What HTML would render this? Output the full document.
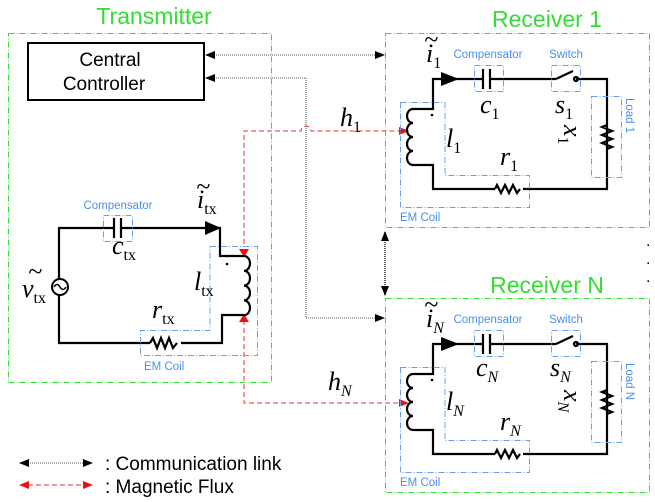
<!DOCTYPE html>
<html><head><meta charset="utf-8"><style>
body{margin:0;background:#fff}
svg{display:block}
.g{fill:none;stroke:#33dd33;stroke-width:1;stroke-dasharray:6 2 1 2}
.b{fill:none;stroke:#6a9ff0;stroke-width:1;stroke-dasharray:6 2 1 2}
.w{fill:none;stroke:#000;stroke-width:2.2}
.c{fill:none;stroke:#777;stroke-width:1.3;stroke-dasharray:1 1}
.r{fill:none;stroke:#f03030;stroke-width:1;stroke-dasharray:5 3}
.t{font-family:"Liberation Sans",sans-serif}
.m{font-family:"Liberation Serif",serif;font-style:italic;font-size:26px}
.s{font-family:"Liberation Serif",serif;font-size:16px;font-style:normal}
.si{font-family:"Liberation Serif",serif;font-size:16px;font-style:italic}
.sl{font-family:"Liberation Sans",sans-serif;font-size:11.5px;fill:#4a8ef0}
.gt{font-family:"Liberation Sans",sans-serif;font-size:23px;fill:#33dd33}
</style></head><body>
<svg width="655" height="502" viewBox="0 0 655 502" xmlns="http://www.w3.org/2000/svg">
<defs>
<marker id="ka" markerWidth="10" markerHeight="8" refX="9" refY="4" orient="auto-start-reverse" markerUnits="userSpaceOnUse"><path d="M0,0 L10,4 L0,8 z" fill="#000"/></marker>
<marker id="ra" markerWidth="10" markerHeight="8" refX="9" refY="4" orient="auto-start-reverse" markerUnits="userSpaceOnUse"><path d="M0,0 L10,4 L0,8 z" fill="#f01010"/></marker>
</defs>
<!-- Transmitter -->
<text class="gt" x="154" y="24" text-anchor="middle">Transmitter</text>
<rect class="g" x="8.5" y="33.5" width="263" height="349"/>
<rect x="28" y="43" width="176" height="57" fill="none" stroke="#000" stroke-width="2"/>
<text class="t" x="110" y="66" font-size="19" text-anchor="middle">Central</text>
<text class="t" x="104" y="90" font-size="19" text-anchor="middle">Controller</text>
<!-- comm links -->
<path class="c" d="M206,55 H384" marker-start="url(#ka)" marker-end="url(#ka)"/>
<path class="c" d="M206,78 H306 V318 H384" marker-start="url(#ka)" marker-end="url(#ka)"/>
<path class="c" d="M385,232 V295" marker-start="url(#ka)" marker-end="url(#ka)" style="stroke:#000"/>
<!-- red flux -->
<path class="r" d="M244,244 V131 H301 a5,5 0 0 1 10,0 H408" marker-end="url(#ra)"/>
<path class="r" d="M244,320 V403 H408" marker-end="url(#ra)"/>
<path d="M239,249 L249,249 L244,257z M239,322 L249,322 L244,314z" fill="#f01010"/>
<!-- tx circuit -->
<path class="w" d="M114,228 H59 V279 M59,295 V343 H150 M181,343 H222 V315 H244 M244,256 H220 V228 H122"/>
<path class="w" d="M114,218 V238 M121,218 V238"/>
<path d="M205,221 L221,228 L205,235z" fill="#000"/>
<circle cx="60" cy="287" r="8" fill="none" stroke="#000" stroke-width="2"/>
<path d="M54,287 q3,-5 6,0 t6,0" fill="none" stroke="#000" stroke-width="1.5"/>
<path class="w" d="M150,343 l3,-5 l4,10 l4,-10 l4,10 l4,-10 l4,10 l4,-5"/>
<path class="w" d="M244,256 a6,7.4 0 0 1 0,14.8 a6,7.4 0 0 1 0,14.8 a6,7.4 0 0 1 0,14.8 a6,7.4 0 0 1 0,14.8"/>
<circle cx="227" cy="264" r="1.3" fill="#000"/>
<rect class="b" x="103.5" y="215.5" width="29" height="26"/>
<path class="b" d="M210,246.5 H257.5 V355.5 H140.5 V330.5 H210 Z"/>
<text class="sl" x="118" y="209" text-anchor="middle">Compensator</text>
<text class="sl" x="144" y="370">EM Coil</text>
<text class="m" x="22" y="297">v<tspan class="s" dy="6">tx</tspan></text>
<text class="m" x="28" y="280" font-size="18" font-style="normal">~</text>
<text class="m" x="112" y="254">c<tspan class="s" dy="6">tx</tspan></text>
<text class="m" x="194" y="290">l<tspan class="s" dy="6">tx</tspan></text>
<text class="m" x="152" y="318">r<tspan class="s" dy="6">tx</tspan></text>
<text class="m" x="197" y="208">i<tspan class="s" dy="6">tx</tspan></text>
<text class="m" x="196" y="195" font-size="18" font-style="normal">~</text>
<!-- receivers -->
<g id="rx">
<rect class="g" x="385.5" y="33.5" width="264" height="194"/>
<path class="w" d="M483,79 H433 V109 H413 M413,165 H433 V189 H495 M523,189 H607 V79 H576 M556,79 H490"/>
<path class="w" d="M483,69 V89 M490,69 V89"/>
<path class="w" d="M556,79 L573,71 M576,79 m-2,0 a2,2 0 1 0 4,0 a2,2 0 1 0 -4,0"/>
<path d="M441,72 L459,79 L441,86z" fill="#000"/>
<path class="w" d="M413,109 a6,7 0 0 0 0,14 a6,7 0 0 0 0,14 a6,7 0 0 0 0,14 a6,7 0 0 0 0,14"/>
<path class="w" d="M495,189 l2,-4 l4,8 l4,-8 l4,8 l4,-8 l4,8 l3,-4"/>
<path class="w" d="M607,125 l-5,2 l10,4 l-10,4 l10,4 l-10,4 l10,4 l-5,2"/>
<circle cx="432" cy="115" r="1.3" fill="#000"/>
<rect class="b" x="474.5" y="65.5" width="29" height="26"/>
<rect class="b" x="551.5" y="65.5" width="29" height="26"/>
<rect class="b" x="591.5" y="96.5" width="30" height="81"/>
<path class="b" d="M400.5,102.5 H445 V175.5 H529.5 V207.5 H400.5 Z"/>
<text class="sl" x="488" y="58" text-anchor="middle">Compensator</text>
<text class="sl" x="566" y="58" text-anchor="middle">Switch</text>
<text class="sl" x="400" y="221">EM Coil</text>
</g>
<use href="#rx" y="265"/>
<text class="gt" x="547" y="27" text-anchor="middle">Receiver 1</text>
<text class="gt" x="547" y="293" text-anchor="middle">Receiver N</text>
<text class="sl" transform="translate(626,98) rotate(90)">Load 1</text>
<text class="sl" transform="translate(626,363) rotate(90)">Load N</text>
<!-- rx1 labels -->
<text class="m" x="426" y="62">i<tspan class="s" dy="6">1</tspan></text>
<text class="m" x="424" y="48" font-size="18" font-style="normal">~</text>
<text class="m" x="480" y="113">c<tspan class="s" dy="6">1</tspan></text>
<text class="m" x="555" y="113">s<tspan class="s" dy="6">1</tspan></text>
<text class="m" x="446" y="147">l<tspan class="s" dy="6">1</tspan></text>
<text class="m" x="500" y="165">r<tspan class="s" dy="6">1</tspan></text>
<text class="m" transform="translate(564,125) rotate(90)">x<tspan class="s" dy="6">1</tspan></text>
<text class="m" x="340" y="126">h<tspan class="s" dy="6">1</tspan></text>
<!-- rxN labels -->
<text class="m" x="426" y="327">i<tspan class="si" dy="6">N</tspan></text>
<text class="m" x="424" y="313" font-size="18" font-style="normal">~</text>
<text class="m" x="476" y="376">c<tspan class="si" dy="6">N</tspan></text>
<text class="m" x="550" y="376">s<tspan class="si" dy="6">N</tspan></text>
<text class="m" x="446" y="410">l<tspan class="si" dy="6">N</tspan></text>
<text class="m" x="500" y="430">r<tspan class="si" dy="6">N</tspan></text>
<text class="m" transform="translate(564,390) rotate(90)">x<tspan class="si" dy="6">N</tspan></text>
<text class="m" x="328" y="390">h<tspan class="si" dy="6">N</tspan></text>
<!-- dots -->
<text class="t" x="646" y="246" font-size="16">.</text>
<text class="t" x="646" y="264" font-size="16">.</text>
<text class="t" x="646" y="282" font-size="16">.</text>
<!-- legend -->
<path class="c" d="M20,463 H92" marker-start="url(#ka)" marker-end="url(#ka)"/>
<path class="r" d="M20,485 H92" marker-start="url(#ra)" marker-end="url(#ra)"/>
<text class="t" x="105" y="470" font-size="19">: Communication link</text>
<text class="t" x="105" y="493" font-size="19">: Magnetic Flux</text>
</svg>
</body></html>
